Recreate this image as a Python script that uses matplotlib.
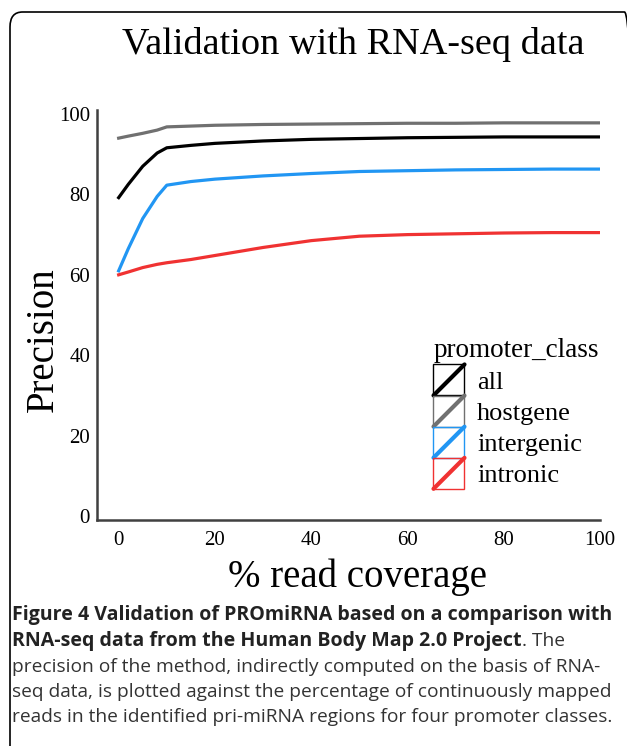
import matplotlib as mpl
mpl.use('Agg')
import matplotlib.pyplot as plt
from matplotlib.patches import FancyBboxPatch, Rectangle
from matplotlib.lines import Line2D
from matplotlib.legend_handler import HandlerBase

# data
coverage = [0, 2, 5, 8, 10, 15, 20, 30, 40, 50, 60, 70, 80, 90, 100]
prec_all = [79.2, 82.5, 87.0, 90.3, 91.6, 92.2, 92.7, 93.3, 93.7, 93.9, 94.1, 94.2, 94.3, 94.3, 94.3]
prec_hostgene = [94.0, 94.5, 95.2, 96.0, 96.8, 97.0, 97.2, 97.4, 97.5, 97.6, 97.7, 97.7, 97.8, 97.8, 97.8]
prec_intergenic = [61.0, 66.5, 74.0, 79.5, 82.3, 83.2, 83.8, 84.6, 85.2, 85.7, 85.9, 86.1, 86.2, 86.3, 86.3]
prec_intronic = [60.0, 60.7, 61.8, 62.6, 63.0, 63.8, 64.8, 66.8, 68.5, 69.6, 70.0, 70.2, 70.4, 70.5, 70.5]
classes = ['all', 'hostgene', 'intergenic', 'intronic']
colors = ['#000000', '#707070', '#2196f3', '#f03232']
xticks = [0, 20, 40, 60, 80, 100]
yticks = [0, 20, 40, 60, 80, 100]

SERIF = 'Liberation Serif'


class BoxDiagHandler(HandlerBase):
    """legend key: outlined square with a diagonal line"""
    def create_artists(self, legend, orig_handle, xdescent, ydescent,
                       width, height, fontsize, trans):
        c = orig_handle.get_color()
        s = 31 * 0.72  # ~31 px box
        x0 = -xdescent
        y0 = -ydescent + (height - s) / 2
        box = Rectangle((x0, y0), s, s, fill=False, edgecolor=c, lw=1.0, transform=trans)
        diag = Line2D([x0, x0 + s], [y0, y0 + s], color=c, lw=3, solid_capstyle='round',
                      transform=trans)
        return [box, diag]


fig = plt.figure(figsize=(6.27, 7.46), dpi=100)

# rounded frame around the figure panel
frame = FancyBboxPatch((10 / 627, -0.05), 1.0, 1 - 12 / 746 + 0.05,
                       boxstyle='round,pad=0,rounding_size=0.02',
                       transform=fig.transFigure, fill=False, edgecolor='black', lw=1.2)
fig.patches.append(frame)

ax = fig.add_axes([97 / 627, 1 - 520 / 746, (600 - 97) / 627, (520 - 110) / 746])

series = [prec_all, prec_hostgene, prec_intergenic, prec_intronic]
handles = []
for vals, name, col in zip(series, classes, colors):
    h, = ax.plot(coverage, vals, color=col, lw=2.3, label=name)
    handles.append(h)

ax.set_xlim(-4.5, 100)
ax.set_ylim(-1, 101)
ax.set_xticks(xticks)
ax.set_yticks(yticks)
ax.tick_params(length=0, labelsize=15)
ax.tick_params(axis='y', pad=5)
ax.tick_params(axis='x', pad=8)
for lab in ax.get_xticklabels() + ax.get_yticklabels():
    lab.set_family(SERIF)
for sp in ['top', 'right']:
    ax.spines[sp].set_visible(False)
for sp in ['left', 'bottom']:
    ax.spines[sp].set_color('#404040')
    ax.spines[sp].set_linewidth(1.8)

ax.set_ylabel('Precision', family=SERIF, fontsize=28, va='center')
ax.yaxis.set_label_coords(-0.107, 0.44)
ax.set_xlabel('% read coverage', family=SERIF, fontsize=28, va='center')
ax.xaxis.set_label_coords(0.517, -0.139)

leg = ax.legend(handles, classes, title='promoter_class', handler_map={Line2D: BoxDiagHandler()},
                loc='upper left', bbox_to_anchor=(0.648, 0.47), frameon=False,
                prop={'family': SERIF, 'size': 19}, handlelength=1.15, handleheight=1.0,
                handletextpad=0.5, labelspacing=0.2, borderaxespad=0)
leg.get_title().set_family(SERIF)
leg.get_title().set_fontsize(19.5)
leg._legend_box.align = 'left'

fig.text(353 / 627, 1 - 45 / 746, 'Validation with RNA-seq data', family=SERIF,
         fontsize=27.5, ha='center', va='center')

# caption
CAP = 'Open Sans'
bold_size = 14.1
reg_size = 13.8
x0 = 12 / 627
lines_y = [620, 646, 672, 697, 722]
fig.text(x0, 1 - lines_y[0] / 746, 'Figure 4 Validation of PROmiRNA based on a comparison with',
         family=CAP, fontsize=bold_size, weight='bold', va='baseline', color='#222222')
t = fig.text(x0, 1 - lines_y[1] / 746, 'RNA-seq data from the Human Body Map 2.0 Project',
             family=CAP, fontsize=bold_size, weight='bold', va='baseline', color='#222222')
r = fig.canvas.get_renderer()
bb = t.get_window_extent(renderer=r)
fig.text(bb.x1 / fig.bbox.width, 1 - lines_y[1] / 746, '. The', family=CAP, fontsize=reg_size,
         va='baseline', color='#333333')
rest = ['precision of the method, indirectly computed on the basis of RNA-',
        'seq data, is plotted against the percentage of continuously mapped',
        'reads in the identified pri-miRNA regions for four promoter classes.']
for yy, txt in zip(lines_y[2:], rest):
    fig.text(x0, 1 - yy / 746, txt, family=CAP, fontsize=reg_size, va='baseline', color='#333333')

fig.savefig('out.png', dpi=100)
